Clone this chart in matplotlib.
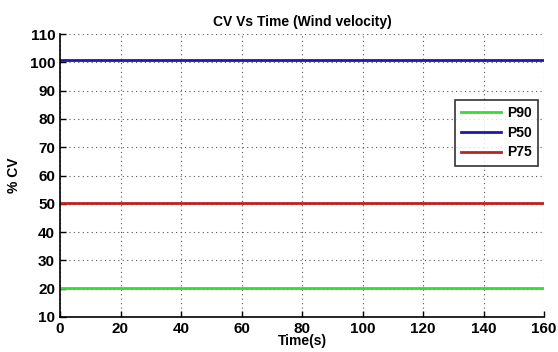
import matplotlib
matplotlib.use("Agg")
import matplotlib.pyplot as plt

time = [0, 160]
p90 = [20.4, 20.4]
p50 = [100.9, 100.9]
p75 = [50.3, 50.3]
xticks = [0, 20, 40, 60, 80, 100, 120, 140, 160]
yticks = [10, 20, 30, 40, 50, 60, 70, 80, 90, 100, 110]

plt.rcParams['font.family'] = ['Liberation Sans', 'DejaVu Sans']
plt.rcParams['font.weight'] = 'bold'

fig = plt.figure(figsize=(5.58, 3.52), dpi=100)
ax = fig.add_axes([60/558, 1-317/352, (544-60)/558, (317-34)/352])

ax.plot(time, p90, color='#33dd33', lw=2, label='P90')
ax.plot(time, p50, color='#1a1aaa', lw=2, label='P50')
ax.plot(time, p75, color='#bb2222', lw=2, label='P75')

ax.set_xlim(0, 160)
ax.set_ylim(10, 110)
ax.set_xticks(xticks)
ax.set_yticks(yticks)
ax.grid(True, linestyle=(0, (1, 3)), color='#555555', lw=0.8)
for s in ['top', 'right']:
    ax.spines[s].set_visible(False)
for s in ['left', 'bottom']:
    ax.spines[s].set_linewidth(1.2)
ax.tick_params(direction='in', length=4, labelsize=11, width=1)
for lab in ax.get_xticklabels() + ax.get_yticklabels():
    lab.set_fontweight('bold')

ax.set_title('CV Vs Time (Wind velocity)', fontsize=10, fontweight='bold', pad=6)
ax.set_xlabel('Time(s)', fontsize=10, fontweight='bold', labelpad=-1)
ax.set_ylabel('% CV', fontsize=10, fontweight='bold', labelpad=6)

leg = ax.legend(loc='upper right', bbox_to_anchor=(1 - 6/484, 1 - 66/283),
                fontsize=10, frameon=True, fancybox=False, edgecolor='black',
                handlelength=2.9, borderpad=0.45, labelspacing=0.4, handletextpad=0.4,
                borderaxespad=0)
leg.get_frame().set_linewidth(1.2)
for t in leg.get_texts():
    t.set_fontweight('bold')

fig.savefig('out.png', dpi=100)
